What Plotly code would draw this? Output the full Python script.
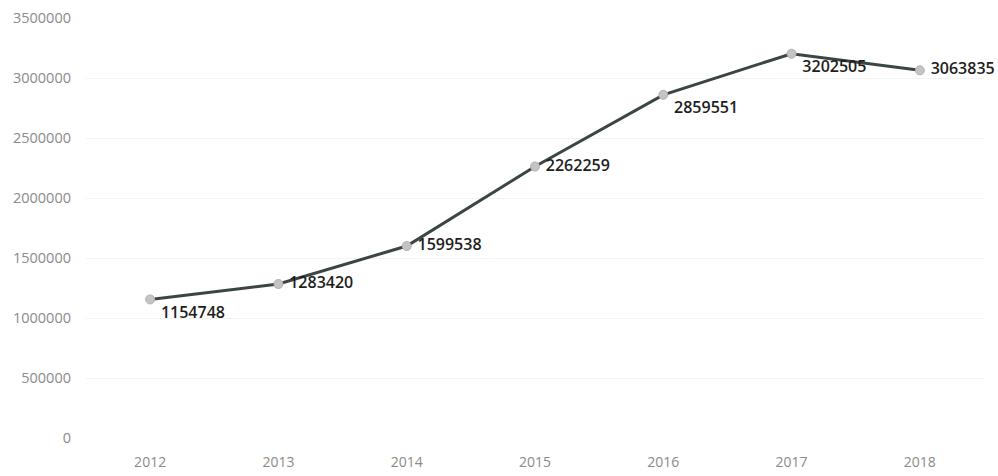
import plotly.graph_objects as go

years = ["2012", "2013", "2014", "2015", "2016", "2017", "2018"]
values = [1154748, 1283420, 1599538, 2262259, 2859551, 3202505, 3063835]
label_pos = ["bottom right", "middle right", "middle right", "middle right",
             "bottom right", "bottom right", "middle right"]

fig = go.Figure()
fig.add_trace(go.Scatter(
    x=years, y=values, mode="lines+markers+text",
    line=dict(color="#3b4644", width=3),
    marker=dict(color="#c4c4c4", size=9, line=dict(color="#b0b0b0", width=1)),
    text=[str(v) for v in values],
    texttemplate=" %{text}",
    textposition=label_pos,
    textfont=dict(family="Open Sans", size=16, color="#1e1e1e", weight=600),
    cliponaxis=False,
    showlegend=False,
))

fig.update_layout(
    width=998, height=476,
    margin=dict(l=86, r=14, t=18, b=38),
    paper_bgcolor="white", plot_bgcolor="white",
    font=dict(family="Open Sans", color="#8a8a8a", size=14),
    xaxis=dict(type="category", range=[-0.5, 6.5], showgrid=False, zeroline=False,
               showline=False, ticks="", ticklabelstandoff=14, automargin=False,
               tickfont=dict(size=14, color="#8a8a8a")),
    yaxis=dict(range=[0, 3500000], dtick=500000, showgrid=True,
               gridcolor="#f3f3f3", zeroline=False, showline=False, automargin=False,
               tickformat="d", ticks="", ticklabelstandoff=14,
               tickfont=dict(size=14.5, color="#8a8a8a")),
)

fig.write_html("out.html")
